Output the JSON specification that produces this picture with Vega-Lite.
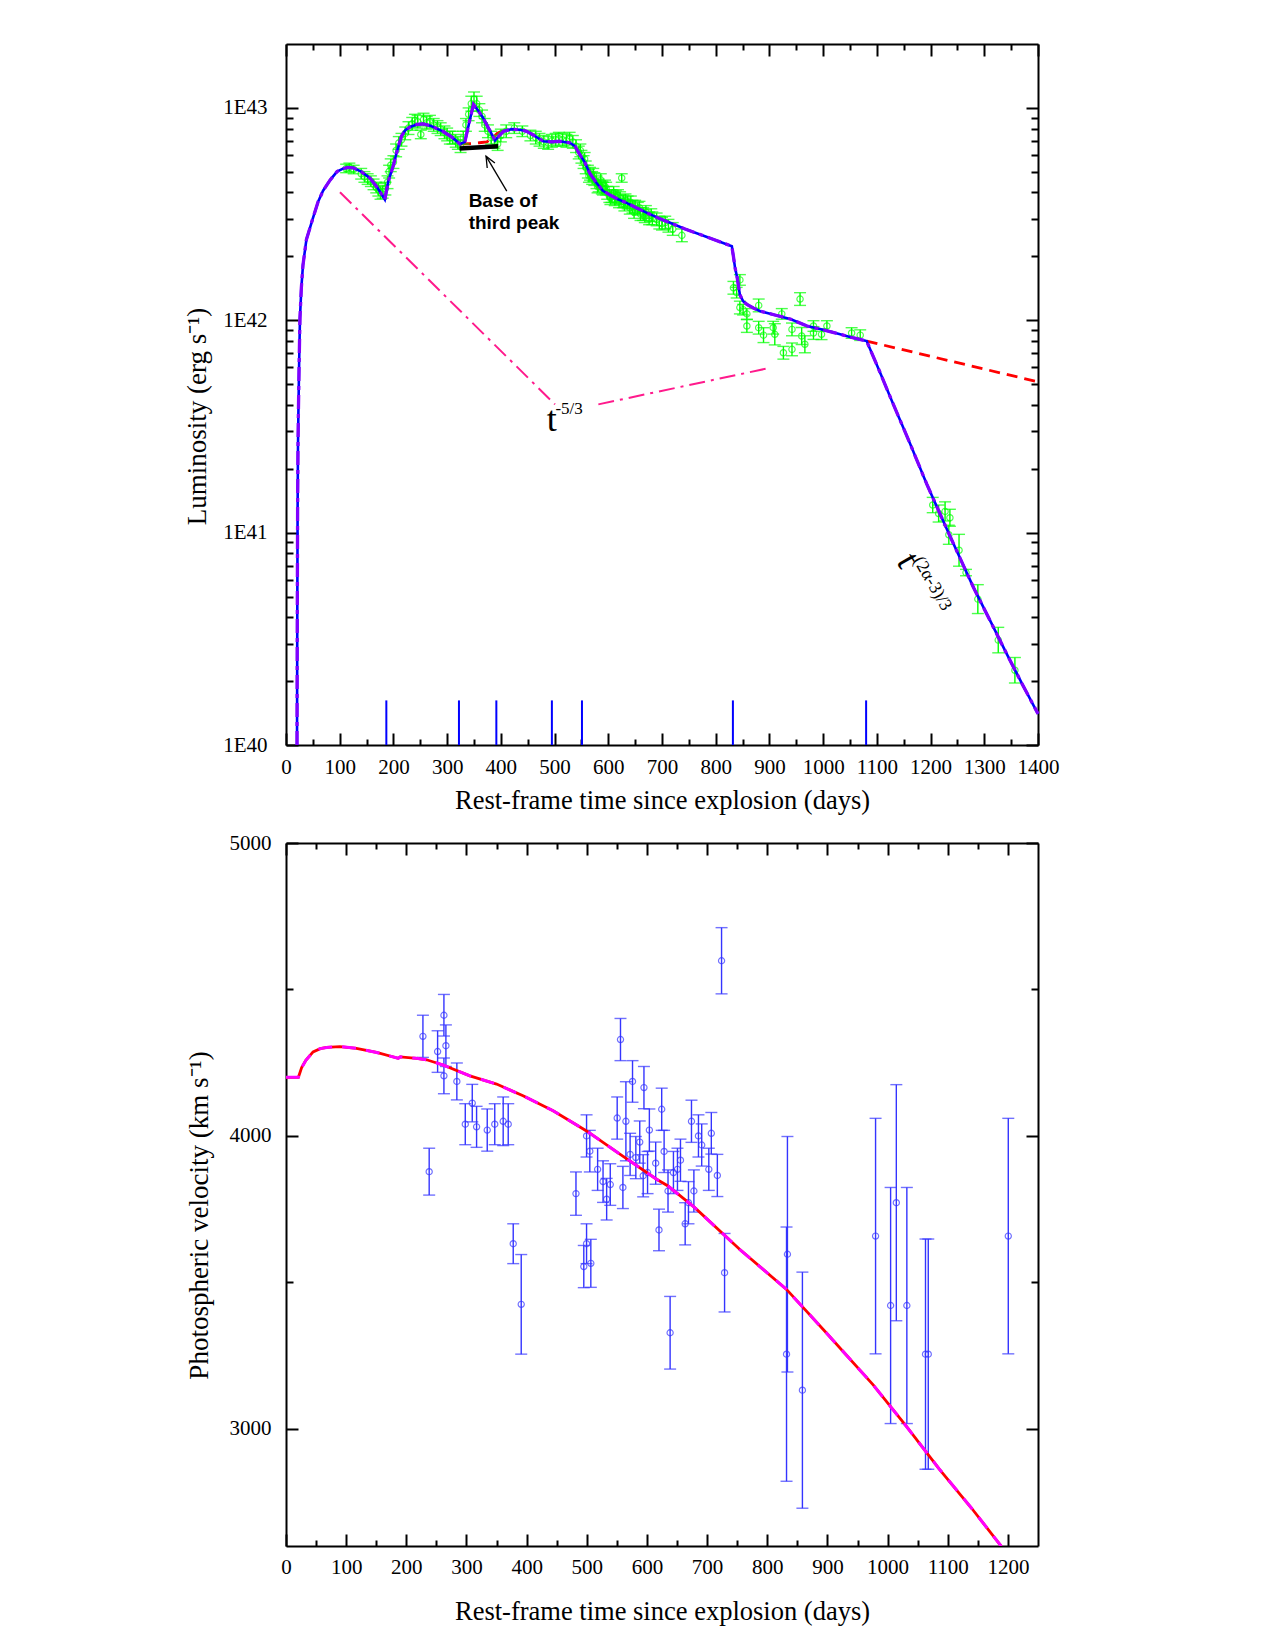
{
  "$schema": "https://vega.github.io/schema/vega-lite/v6.json",
  "background": "white",
  "padding": {"left": 183, "top": 43, "right": 10, "bottom": 10},
  "spacing": 18,
  "config": {
    "font": "Liberation Serif",
    "view": {"stroke": null},
    "axis": {
      "grid": false,
      "domainColor": "#000000",
      "domainWidth": 2,
      "tickColor": "#000000",
      "tickWidth": 2,
      "labelFont": "Liberation Serif",
      "labelFontSize": 21,
      "labelColor": "#000000",
      "titleFont": "Liberation Serif",
      "titleFontSize": 26.5,
      "titleFontWeight": "normal",
      "titleColor": "#000000",
      "labelFlush": false,
      "labelOverlap": false,
      "labelBound": false,
      "format": "d"
    }
  },
  "datasets": {
    "lumModel": [
      {"t": 20.5, "L": 40.0}, {"t": 21, "L": 40.6}, {"t": 21.6, "L": 41.1}, {"t": 22.3, "L": 41.4},
      {"t": 23, "L": 41.55}, {"t": 24.4, "L": 41.79}, {"t": 26, "L": 42.01}, {"t": 28.5, "L": 42.15},
      {"t": 31.6, "L": 42.26}, {"t": 38, "L": 42.38}, {"t": 50, "L": 42.48}, {"t": 60, "L": 42.56},
      {"t": 69, "L": 42.61}, {"t": 82, "L": 42.66}, {"t": 95, "L": 42.7}, {"t": 107, "L": 42.715},
      {"t": 115, "L": 42.72}, {"t": 125, "L": 42.718}, {"t": 140, "L": 42.7}, {"t": 156, "L": 42.67},
      {"t": 170, "L": 42.625}, {"t": 184, "L": 42.569}, {"t": 190.5, "L": 42.655}, {"t": 200, "L": 42.73},
      {"t": 206, "L": 42.79}, {"t": 215, "L": 42.867}, {"t": 222, "L": 42.895}, {"t": 231, "L": 42.91},
      {"t": 243, "L": 42.922}, {"t": 255, "L": 42.925}, {"t": 270, "L": 42.915}, {"t": 292, "L": 42.89},
      {"t": 310, "L": 42.86}, {"t": 324, "L": 42.83}, {"t": 333, "L": 42.84}, {"t": 341, "L": 42.93},
      {"t": 349, "L": 43.016}, {"t": 357, "L": 42.99}, {"t": 367, "L": 42.953}, {"t": 378, "L": 42.9},
      {"t": 389, "L": 42.847}, {"t": 397, "L": 42.87}, {"t": 405, "L": 42.89}, {"t": 420, "L": 42.9},
      {"t": 435, "L": 42.897}, {"t": 448, "L": 42.89}, {"t": 462, "L": 42.87}, {"t": 479, "L": 42.843},
      {"t": 495, "L": 42.84}, {"t": 510, "L": 42.843}, {"t": 529, "L": 42.835}, {"t": 538, "L": 42.82},
      {"t": 547, "L": 42.78}, {"t": 556, "L": 42.745}, {"t": 566, "L": 42.69}, {"t": 578, "L": 42.647},
      {"t": 590, "L": 42.61}, {"t": 603, "L": 42.59}, {"t": 618, "L": 42.57}, {"t": 634, "L": 42.553},
      {"t": 652, "L": 42.53}, {"t": 672, "L": 42.506}, {"t": 693, "L": 42.482}, {"t": 715, "L": 42.459},
      {"t": 743, "L": 42.43}, {"t": 771, "L": 42.404}, {"t": 800, "L": 42.377}, {"t": 830, "L": 42.349},
      {"t": 833, "L": 42.3}, {"t": 836, "L": 42.247}, {"t": 840, "L": 42.2}, {"t": 845, "L": 42.12},
      {"t": 851, "L": 42.09}, {"t": 858, "L": 42.075}, {"t": 870, "L": 42.058}, {"t": 883, "L": 42.043},
      {"t": 910, "L": 42.025}, {"t": 940, "L": 42.005}, {"t": 970, "L": 41.973}, {"t": 1000, "L": 41.955},
      {"t": 1030, "L": 41.935}, {"t": 1055, "L": 41.918}, {"t": 1081, "L": 41.902}, {"t": 1105, "L": 41.76},
      {"t": 1128, "L": 41.62}, {"t": 1160, "L": 41.43}, {"t": 1193, "L": 41.228}, {"t": 1235, "L": 40.99},
      {"t": 1280, "L": 40.741}, {"t": 1310, "L": 40.59}, {"t": 1342, "L": 40.428}, {"t": 1370, "L": 40.29},
      {"t": 1400, "L": 40.147}
    ],
    "lumNoPeak": [
      {"t": 324, "L": 42.83, "seg": "a"}, {"t": 345, "L": 42.832, "seg": "a"}, {"t": 360, "L": 42.836, "seg": "a"},
      {"t": 374, "L": 42.84, "seg": "a"}, {"t": 385, "L": 42.86, "seg": "a"}, {"t": 393, "L": 42.88, "seg": "a"},
      {"t": 405, "L": 42.895, "seg": "a"},
      {"t": 1081, "L": 41.902, "seg": "b"}, {"t": 1400, "L": 41.71, "seg": "b"}
    ],
    "powerLaw": [
      {"t": 100.5, "L": 42.603, "seg": "a"}, {"t": 500.8, "L": 41.604, "seg": "a"},
      {"t": 581.5, "L": 41.604, "seg": "b"}, {"t": 901, "L": 41.776, "seg": "b"}
    ],
    "lumObs": [
      {"t": 112, "L": 42.715, "e": 0.02}, {"t": 118, "L": 42.72, "e": 0.02}, {"t": 126, "L": 42.71, "e": 0.02},
      {"t": 140, "L": 42.69, "e": 0.025}, {"t": 146, "L": 42.675, "e": 0.025}, {"t": 152, "L": 42.665, "e": 0.025},
      {"t": 158, "L": 42.655, "e": 0.025}, {"t": 163, "L": 42.64, "e": 0.025}, {"t": 168, "L": 42.625, "e": 0.025},
      {"t": 172, "L": 42.615, "e": 0.03}, {"t": 176, "L": 42.6, "e": 0.03}, {"t": 180, "L": 42.605, "e": 0.03},
      {"t": 185, "L": 42.62, "e": 0.03}, {"t": 189, "L": 42.65, "e": 0.03}, {"t": 192, "L": 42.7, "e": 0.03},
      {"t": 195, "L": 42.73, "e": 0.03}, {"t": 200, "L": 42.745, "e": 0.03}, {"t": 205, "L": 42.8, "e": 0.03},
      {"t": 210, "L": 42.835, "e": 0.03}, {"t": 215, "L": 42.85, "e": 0.03}, {"t": 222, "L": 42.88, "e": 0.03},
      {"t": 228, "L": 42.905, "e": 0.03}, {"t": 235, "L": 42.925, "e": 0.03}, {"t": 240, "L": 42.94, "e": 0.03},
      {"t": 245, "L": 42.935, "e": 0.03}, {"t": 251, "L": 42.875, "e": 0.02}, {"t": 256, "L": 42.945, "e": 0.03},
      {"t": 262, "L": 42.93, "e": 0.03}, {"t": 268, "L": 42.935, "e": 0.03}, {"t": 275, "L": 42.92, "e": 0.03},
      {"t": 282, "L": 42.91, "e": 0.03}, {"t": 288, "L": 42.9, "e": 0.03}, {"t": 295, "L": 42.885, "e": 0.03},
      {"t": 300, "L": 42.875, "e": 0.03}, {"t": 305, "L": 42.86, "e": 0.03}, {"t": 310, "L": 42.86, "e": 0.03},
      {"t": 316, "L": 42.845, "e": 0.03}, {"t": 320, "L": 42.835, "e": 0.03}, {"t": 325, "L": 42.82, "e": 0.03},
      {"t": 330, "L": 42.86, "e": 0.03}, {"t": 335, "L": 42.92, "e": 0.03}, {"t": 340, "L": 42.97, "e": 0.03},
      {"t": 345, "L": 43.02, "e": 0.035}, {"t": 350, "L": 43.04, "e": 0.035}, {"t": 355, "L": 43.02, "e": 0.035},
      {"t": 360, "L": 42.99, "e": 0.03}, {"t": 365, "L": 42.96, "e": 0.03}, {"t": 370, "L": 42.92, "e": 0.03},
      {"t": 376, "L": 42.89, "e": 0.03}, {"t": 382, "L": 42.86, "e": 0.03}, {"t": 388, "L": 42.84, "e": 0.03},
      {"t": 394, "L": 42.83, "e": 0.03}, {"t": 400, "L": 42.87, "e": 0.03}, {"t": 410, "L": 42.89, "e": 0.03},
      {"t": 425, "L": 42.905, "e": 0.025}, {"t": 440, "L": 42.89, "e": 0.025}, {"t": 455, "L": 42.87, "e": 0.025},
      {"t": 465, "L": 42.86, "e": 0.03}, {"t": 472, "L": 42.85, "e": 0.03}, {"t": 480, "L": 42.84, "e": 0.03},
      {"t": 488, "L": 42.835, "e": 0.03}, {"t": 495, "L": 42.845, "e": 0.03}, {"t": 502, "L": 42.85, "e": 0.03},
      {"t": 508, "L": 42.855, "e": 0.03}, {"t": 515, "L": 42.85, "e": 0.03}, {"t": 522, "L": 42.845, "e": 0.03},
      {"t": 528, "L": 42.855, "e": 0.03}, {"t": 534, "L": 42.84, "e": 0.03}, {"t": 540, "L": 42.82, "e": 0.03},
      {"t": 545, "L": 42.79, "e": 0.03}, {"t": 548, "L": 42.8, "e": 0.03}, {"t": 550, "L": 42.77, "e": 0.03},
      {"t": 554, "L": 42.745, "e": 0.03}, {"t": 556, "L": 42.76, "e": 0.03}, {"t": 558, "L": 42.72, "e": 0.03},
      {"t": 562, "L": 42.7, "e": 0.03}, {"t": 564, "L": 42.68, "e": 0.03}, {"t": 566, "L": 42.69, "e": 0.03},
      {"t": 570, "L": 42.67, "e": 0.03}, {"t": 572, "L": 42.685, "e": 0.03}, {"t": 574, "L": 42.665, "e": 0.03},
      {"t": 578, "L": 42.65, "e": 0.03}, {"t": 580, "L": 42.63, "e": 0.03}, {"t": 582, "L": 42.635, "e": 0.03},
      {"t": 586, "L": 42.66, "e": 0.03}, {"t": 588, "L": 42.625, "e": 0.03}, {"t": 590, "L": 42.62, "e": 0.03},
      {"t": 594, "L": 42.63, "e": 0.03}, {"t": 596, "L": 42.62, "e": 0.03}, {"t": 598, "L": 42.6, "e": 0.03},
      {"t": 602, "L": 42.585, "e": 0.03}, {"t": 604, "L": 42.575, "e": 0.03}, {"t": 606, "L": 42.585, "e": 0.03},
      {"t": 610, "L": 42.6, "e": 0.03}, {"t": 612, "L": 42.57, "e": 0.03}, {"t": 614, "L": 42.58, "e": 0.03},
      {"t": 618, "L": 42.585, "e": 0.03}, {"t": 620, "L": 42.56, "e": 0.03}, {"t": 622, "L": 42.575, "e": 0.03},
      {"t": 625, "L": 42.67, "e": 0.02}, {"t": 628, "L": 42.56, "e": 0.03}, {"t": 630, "L": 42.545, "e": 0.03},
      {"t": 632, "L": 42.565, "e": 0.03}, {"t": 636, "L": 42.555, "e": 0.03}, {"t": 640, "L": 42.53, "e": 0.03},
      {"t": 642, "L": 42.555, "e": 0.03}, {"t": 645, "L": 42.535, "e": 0.03}, {"t": 648, "L": 42.51, "e": 0.03},
      {"t": 650, "L": 42.535, "e": 0.03}, {"t": 655, "L": 42.525, "e": 0.03}, {"t": 658, "L": 42.53, "e": 0.03},
      {"t": 660, "L": 42.5, "e": 0.03}, {"t": 665, "L": 42.5, "e": 0.03}, {"t": 668, "L": 42.49, "e": 0.03},
      {"t": 670, "L": 42.51, "e": 0.03}, {"t": 676, "L": 42.48, "e": 0.03}, {"t": 680, "L": 42.495, "e": 0.03},
      {"t": 682, "L": 42.48, "e": 0.03}, {"t": 690, "L": 42.475, "e": 0.03}, {"t": 695, "L": 42.46, "e": 0.03},
      {"t": 700, "L": 42.455, "e": 0.03}, {"t": 706, "L": 42.46, "e": 0.03}, {"t": 712, "L": 42.445, "e": 0.03},
      {"t": 720, "L": 42.43, "e": 0.03}, {"t": 737, "L": 42.4, "e": 0.03},
      {"t": 833, "L": 42.153, "e": 0.03}, {"t": 845, "L": 42.19, "e": 0.025}, {"t": 839, "L": 42.13, "e": 0.025},
      {"t": 845, "L": 42.06, "e": 0.03}, {"t": 851, "L": 42.05, "e": 0.025}, {"t": 858, "L": 42.03, "e": 0.025},
      {"t": 880, "L": 42.07, "e": 0.03}, {"t": 858, "L": 41.973, "e": 0.03}, {"t": 880, "L": 41.965, "e": 0.03},
      {"t": 889, "L": 41.93, "e": 0.035}, {"t": 907, "L": 41.965, "e": 0.03}, {"t": 910, "L": 41.934, "e": 0.05},
      {"t": 923, "L": 42.03, "e": 0.025}, {"t": 926, "L": 41.847, "e": 0.03}, {"t": 942, "L": 41.863, "e": 0.03},
      {"t": 942, "L": 41.957, "e": 0.03}, {"t": 957, "L": 42.1, "e": 0.03}, {"t": 960, "L": 41.926, "e": 0.04},
      {"t": 966, "L": 41.887, "e": 0.04}, {"t": 982, "L": 41.973, "e": 0.025}, {"t": 982, "L": 41.94, "e": 0.03},
      {"t": 997, "L": 41.934, "e": 0.025}, {"t": 1007, "L": 41.973, "e": 0.025}, {"t": 1053, "L": 41.94, "e": 0.025},
      {"t": 1069, "L": 41.93, "e": 0.025},
      {"t": 1204, "L": 41.13, "e": 0.036}, {"t": 1215, "L": 41.09, "e": 0.04}, {"t": 1227, "L": 41.1, "e": 0.045},
      {"t": 1236, "L": 41.07, "e": 0.04}, {"t": 1234, "L": 40.99, "e": 0.045}, {"t": 1253, "L": 40.917, "e": 0.075},
      {"t": 1266, "L": 40.812, "e": 0.015}, {"t": 1288, "L": 40.687, "e": 0.068}, {"t": 1326, "L": 40.494, "e": 0.06},
      {"t": 1357, "L": 40.352, "e": 0.06}
    ],
    "breaks": [{"t": 186.8}, {"t": 322}, {"t": 391.6}, {"t": 495}, {"t": 551}, {"t": 832}, {"t": 1080}],
    "base": [{"t": 323, "L": 42.809}, {"t": 395, "L": 42.82}],
    "arrow": [
      {"t": 411, "L": 42.608, "part": "shaft", "k": 0}, {"t": 372.4, "L": 42.773, "part": "shaft", "k": 1},
      {"t": 374.6, "L": 42.717, "part": "head", "k": 0}, {"t": 372.4, "L": 42.773, "part": "head", "k": 1},
      {"t": 388.9, "L": 42.741, "part": "head", "k": 2}
    ],
    "velModel": [
      {"t": 0, "v": 4200}, {"t": 20.5, "v": 4200}, {"t": 23, "v": 4215}, {"t": 26, "v": 4233}, {"t": 33, "v": 4258},
      {"t": 45, "v": 4287}, {"t": 57, "v": 4298}, {"t": 67.6, "v": 4302}, {"t": 89.7, "v": 4305}, {"t": 117, "v": 4299},
      {"t": 150.6, "v": 4285}, {"t": 186.6, "v": 4265}, {"t": 190, "v": 4270}, {"t": 217, "v": 4265}, {"t": 233.7, "v": 4260},
      {"t": 261, "v": 4242}, {"t": 305.7, "v": 4205}, {"t": 350, "v": 4177}, {"t": 394, "v": 4137}, {"t": 444, "v": 4086},
      {"t": 499.6, "v": 4017}, {"t": 555, "v": 3938}, {"t": 616, "v": 3852}, {"t": 635, "v": 3829}, {"t": 679.5, "v": 3755},
      {"t": 754, "v": 3613}, {"t": 832, "v": 3476}, {"t": 898, "v": 3328}, {"t": 976, "v": 3150}, {"t": 1031, "v": 3009},
      {"t": 1086.6, "v": 2861}, {"t": 1140, "v": 2728}, {"t": 1189, "v": 2599}
    ],
    "velObs": [
      {"t": 227.6, "v": 4340, "e": 72}, {"t": 238, "v": 3878, "e": 80}, {"t": 252, "v": 4288, "e": 71},
      {"t": 262.5, "v": 4412, "e": 71}, {"t": 265.8, "v": 4308, "e": 71}, {"t": 262.5, "v": 4205, "e": 61},
      {"t": 284, "v": 4186, "e": 63}, {"t": 298, "v": 4040, "e": 70}, {"t": 309.6, "v": 4112, "e": 64},
      {"t": 316.8, "v": 4031, "e": 70}, {"t": 334.5, "v": 4020, "e": 72}, {"t": 347, "v": 4040, "e": 70},
      {"t": 361, "v": 4050, "e": 83}, {"t": 369.4, "v": 4040, "e": 70}, {"t": 377.7, "v": 3632, "e": 68},
      {"t": 391, "v": 3425, "e": 170}, {"t": 482, "v": 3803, "e": 74}, {"t": 499.6, "v": 4000, "e": 72},
      {"t": 505, "v": 3948, "e": 71}, {"t": 518, "v": 3886, "e": 72}, {"t": 527, "v": 3844, "e": 71},
      {"t": 533, "v": 3784, "e": 71}, {"t": 539, "v": 3834, "e": 71}, {"t": 550.5, "v": 4061, "e": 72},
      {"t": 556, "v": 4329, "e": 72}, {"t": 565, "v": 4050, "e": 135}, {"t": 576, "v": 4186, "e": 71},
      {"t": 572, "v": 3937, "e": 72}, {"t": 581.5, "v": 3926, "e": 72}, {"t": 588, "v": 3979, "e": 72},
      {"t": 595, "v": 4165, "e": 72}, {"t": 593.7, "v": 3864, "e": 72}, {"t": 604, "v": 4020, "e": 72},
      {"t": 614.5, "v": 3907, "e": 72}, {"t": 624.5, "v": 4091, "e": 72}, {"t": 628.5, "v": 3947, "e": 72},
      {"t": 495, "v": 3554, "e": 72}, {"t": 499.6, "v": 3632, "e": 68}, {"t": 506.7, "v": 3565, "e": 82},
      {"t": 560, "v": 3824, "e": 72}, {"t": 620, "v": 3679, "e": 71}, {"t": 635, "v": 3812, "e": 72},
      {"t": 638.5, "v": 3328, "e": 124}, {"t": 663.5, "v": 3700, "e": 72}, {"t": 669, "v": 3772, "e": 72},
      {"t": 678, "v": 3812, "e": 72}, {"t": 729, "v": 3533, "e": 134}, {"t": 833.5, "v": 3596, "e": 402},
      {"t": 832, "v": 3255, "e": 434}, {"t": 858.4, "v": 3132, "e": 403}, {"t": 980, "v": 3658, "e": 402},
      {"t": 1005, "v": 3421, "e": 403}, {"t": 1014.5, "v": 3772, "e": 403}, {"t": 1032, "v": 3421, "e": 403},
      {"t": 1063, "v": 3255, "e": 393}, {"t": 1067.6, "v": 3255, "e": 393}, {"t": 1200.6, "v": 3658, "e": 402},
      {"t": 724, "v": 4598, "e": 113}, {"t": 674, "v": 4050, "e": 72}, {"t": 685.6, "v": 4000, "e": 72},
      {"t": 707, "v": 4009, "e": 71}, {"t": 691, "v": 3969, "e": 72}, {"t": 655.7, "v": 3917, "e": 72},
      {"t": 650.7, "v": 3886, "e": 72}, {"t": 644, "v": 3875, "e": 72}, {"t": 702.8, "v": 3886, "e": 72},
      {"t": 717, "v": 3865, "e": 72}, {"t": 601, "v": 3875, "e": 72}
    ]
  },
  "vconcat": [
    {
      "width": 752,
      "height": 701,
      "resolve": {"axis": {"x": "independent", "y": "independent"}},
      "layer": [
        {
          "data": {"name": "powerLaw"},
          "mark": {"type": "line", "color": "#ff1a8c", "strokeWidth": 2, "strokeDash": [16, 6, 3, 6]},
          "encoding": {
            "x": {"field": "t", "type": "quantitative", "scale": {"domain": [0, 1400], "nice": false, "zero": false}, "axis": null},
            "y": {"field": "L", "type": "quantitative", "scale": {"domain": [40, 43.301], "nice": false, "zero": false}, "axis": null},
            "detail": {"field": "seg"}
          }
        },
        {
          "data": {"name": "lumNoPeak"},
          "mark": {"type": "line", "color": "#ff0000", "strokeWidth": 2.8, "strokeDash": [11, 7]},
          "encoding": {
            "x": {"field": "t", "type": "quantitative", "scale": {"domain": [0, 1400], "nice": false, "zero": false}, "axis": null},
            "y": {"field": "L", "type": "quantitative", "scale": {"domain": [40, 43.301], "nice": false, "zero": false}, "axis": null},
            "detail": {"field": "seg"}
          }
        },
        {
          "data": {"name": "lumObs"},
          "mark": {"type": "errorbar", "ticks": true, "size": 12, "thickness": 1.4, "color": "#00ff00"},
          "encoding": {
            "x": {"field": "t", "type": "quantitative", "scale": {"domain": [0, 1400], "nice": false, "zero": false}, "axis": null},
            "y": {"field": "L", "type": "quantitative", "scale": {"domain": [40, 43.301], "nice": false, "zero": false}, "axis": null},
            "yError": {"field": "e"}
          }
        },
        {
          "data": {"name": "lumObs"},
          "mark": {"type": "point", "shape": "circle", "filled": false, "size": 40, "strokeWidth": 1.2, "color": "#00ff00"},
          "encoding": {
            "x": {"field": "t", "type": "quantitative", "scale": {"domain": [0, 1400], "nice": false, "zero": false}, "axis": null},
            "y": {"field": "L", "type": "quantitative", "scale": {"domain": [40, 43.301], "nice": false, "zero": false}, "axis": null}
          }
        },
        {
          "data": {"name": "lumModel"},
          "mark": {"type": "line", "color": "#0000ff", "strokeWidth": 2.6},
          "encoding": {
            "x": {
              "field": "t", "type": "quantitative",
              "scale": {"domain": [0, 1400], "nice": false, "zero": false},
              "axis": {
                "orient": "bottom",
                "title": "Rest-frame time since explosion (days)",
                "values": [0, 50, 100, 150, 200, 250, 300, 350, 400, 450, 500, 550, 600, 650, 700, 750, 800, 850, 900, 950, 1000, 1050, 1100, 1150, 1200, 1250, 1300, 1350, 1400],
                "labelExpr": "datum.value % 100 === 0 ? datum.label : ''",
                "tickSize": {"condition": {"test": "datum.value % 100 === 0", "value": -12}, "value": -6},
                "labelPadding": 23,
                "titlePadding": 4
              }
            },
            "y": {
              "field": "L", "type": "quantitative",
              "scale": {"domain": [40, 43.301], "nice": false, "zero": false},
              "axis": {
                "orient": "left",
                "title": "Luminosity (erg s⁻¹)",
                "titleFontSize": 27,
                "values": [40, 40.30103, 40.47712, 40.60206, 40.69897, 40.77815, 40.8451, 40.90309, 40.95424, 41, 41.30103, 41.47712, 41.60206, 41.69897, 41.77815, 41.8451, 41.90309, 41.95424, 42, 42.30103, 42.47712, 42.60206, 42.69897, 42.77815, 42.8451, 42.90309, 42.95424, 43],
                "labelExpr": "datum.value % 1 === 0 ? '1E' + datum.value : ''",
                "tickSize": {"condition": {"test": "datum.value % 1 === 0", "value": -12}, "value": -7},
                "labelPadding": 31,
                "titlePadding": 11,
                "titleY": 372
              }
            }
          }
        },
        {
          "data": {"name": "lumModel"},
          "mark": {"type": "line", "color": "#8000ff", "strokeWidth": 3.3, "strokeDash": [14, 5, 4, 5]},
          "encoding": {
            "x": {
              "field": "t", "type": "quantitative",
              "scale": {"domain": [0, 1400], "nice": false, "zero": false},
              "axis": {
                "orient": "top", "title": null, "labels": false,
                "values": [0, 50, 100, 150, 200, 250, 300, 350, 400, 450, 500, 550, 600, 650, 700, 750, 800, 850, 900, 950, 1000, 1050, 1100, 1150, 1200, 1250, 1300, 1350, 1400],
                "tickSize": {"condition": {"test": "datum.value % 100 === 0", "value": -12}, "value": -6}
              }
            },
            "y": {
              "field": "L", "type": "quantitative",
              "scale": {"domain": [40, 43.301], "nice": false, "zero": false},
              "axis": {
                "orient": "right", "title": null, "labels": false,
                "values": [40, 40.30103, 40.47712, 40.60206, 40.69897, 40.77815, 40.8451, 40.90309, 40.95424, 41, 41.30103, 41.47712, 41.60206, 41.69897, 41.77815, 41.8451, 41.90309, 41.95424, 42, 42.30103, 42.47712, 42.60206, 42.69897, 42.77815, 42.8451, 42.90309, 42.95424, 43],
                "tickSize": {"condition": {"test": "datum.value % 1 === 0", "value": -12}, "value": -7}
              }
            }
          }
        },
        {
          "data": {"name": "breaks"},
          "mark": {"type": "rule", "color": "#0000ff", "strokeWidth": 2},
          "encoding": {
            "x": {"field": "t", "type": "quantitative", "scale": {"domain": [0, 1400], "nice": false, "zero": false}, "axis": null},
            "y": {"datum": 40, "type": "quantitative", "scale": {"domain": [40, 43.301], "nice": false, "zero": false}, "axis": null},
            "y2": {"datum": 40.21}
          }
        },
        {
          "data": {"name": "base"},
          "mark": {"type": "line", "color": "#000000", "strokeWidth": 4.5},
          "encoding": {
            "x": {"field": "t", "type": "quantitative", "scale": {"domain": [0, 1400], "nice": false, "zero": false}, "axis": null},
            "y": {"field": "L", "type": "quantitative", "scale": {"domain": [40, 43.301], "nice": false, "zero": false}, "axis": null}
          }
        },
        {
          "data": {"name": "arrow"},
          "mark": {"type": "line", "color": "#000000", "strokeWidth": 1.3},
          "encoding": {
            "x": {"field": "t", "type": "quantitative", "scale": {"domain": [0, 1400], "nice": false, "zero": false}, "axis": null},
            "y": {"field": "L", "type": "quantitative", "scale": {"domain": [40, 43.301], "nice": false, "zero": false}, "axis": null},
            "detail": {"field": "part"},
            "order": {"field": "k"}
          }
        },
        {
          "data": {"values": [{}]},
          "mark": {"type": "text", "text": ["Base of", "third peak"], "font": "Liberation Sans", "fontWeight": "bold", "fontSize": 19, "align": "left", "baseline": "alphabetic", "lineHeight": 22.6, "color": "#000000"},
          "encoding": {
            "x": {"datum": 340, "type": "quantitative", "scale": {"domain": [0, 1400], "nice": false, "zero": false}, "axis": null},
            "y": {"datum": 42.534, "type": "quantitative", "scale": {"domain": [40, 43.301], "nice": false, "zero": false}, "axis": null}
          }
        },
        {
          "data": {"values": [{}]},
          "mark": {"type": "text", "text": "t", "font": "Liberation Serif", "fontSize": 36, "align": "center", "baseline": "alphabetic", "color": "#000000"},
          "encoding": {
            "x": {"datum": 494.6, "type": "quantitative", "scale": {"domain": [0, 1400], "nice": false, "zero": false}, "axis": null},
            "y": {"datum": 41.478, "type": "quantitative", "scale": {"domain": [40, 43.301], "nice": false, "zero": false}, "axis": null}
          }
        },
        {
          "data": {"values": [{}]},
          "mark": {"type": "text", "text": "-5/3", "font": "Liberation Serif", "fontSize": 17, "align": "left", "baseline": "alphabetic", "color": "#000000"},
          "encoding": {
            "x": {"datum": 501.5, "type": "quantitative", "scale": {"domain": [0, 1400], "nice": false, "zero": false}, "axis": null},
            "y": {"datum": 41.559, "type": "quantitative", "scale": {"domain": [40, 43.301], "nice": false, "zero": false}, "axis": null}
          }
        },
        {
          "data": {"values": [{}]},
          "mark": {"type": "text", "text": "t", "font": "Liberation Serif", "fontSize": 36, "align": "center", "baseline": "middle", "angle": 60, "color": "#000000"},
          "encoding": {
            "x": {"datum": 1158, "type": "quantitative", "scale": {"domain": [0, 1400], "nice": false, "zero": false}, "axis": null},
            "y": {"datum": 40.87, "type": "quantitative", "scale": {"domain": [40, 43.301], "nice": false, "zero": false}, "axis": null}
          }
        },
        {
          "data": {"values": [{}]},
          "mark": {"type": "text", "text": "(2α-3)/3", "font": "Liberation Serif", "fontSize": 18, "align": "center", "baseline": "middle", "angle": 60, "color": "#000000"},
          "encoding": {
            "x": {"datum": 1203, "type": "quantitative", "scale": {"domain": [0, 1400], "nice": false, "zero": false}, "axis": null},
            "y": {"datum": 40.76, "type": "quantitative", "scale": {"domain": [40, 43.301], "nice": false, "zero": false}, "axis": null}
          }
        }
      ]
    },
    {
      "width": 752,
      "height": 703,
      "resolve": {"axis": {"x": "independent", "y": "independent"}},
      "layer": [
        {
          "data": {"name": "velObs"},
          "mark": {"type": "errorbar", "ticks": true, "size": 12, "thickness": 1.4, "color": "#3434ff"},
          "encoding": {
            "x": {"field": "t", "type": "quantitative", "scale": {"domain": [0, 1250], "nice": false, "zero": false}, "axis": null},
            "y": {"field": "v", "type": "quantitative", "scale": {"domain": [2600, 5000], "nice": false, "zero": false}, "axis": null},
            "yError": {"field": "e"}
          }
        },
        {
          "data": {"name": "velObs"},
          "mark": {"type": "point", "shape": "circle", "filled": false, "size": 38, "strokeWidth": 1.2, "color": "#3434ff"},
          "encoding": {
            "x": {"field": "t", "type": "quantitative", "scale": {"domain": [0, 1250], "nice": false, "zero": false}, "axis": null},
            "y": {"field": "v", "type": "quantitative", "scale": {"domain": [2600, 5000], "nice": false, "zero": false}, "axis": null}
          }
        },
        {
          "data": {"name": "velModel"},
          "mark": {"type": "line", "color": "#ff0000", "strokeWidth": 2.8, "clip": true},
          "encoding": {
            "x": {
              "field": "t", "type": "quantitative",
              "scale": {"domain": [0, 1250], "nice": false, "zero": false},
              "axis": {
                "orient": "bottom",
                "title": "Rest-frame time since explosion (days)",
                "values": [0, 50, 100, 150, 200, 250, 300, 350, 400, 450, 500, 550, 600, 650, 700, 750, 800, 850, 900, 950, 1000, 1050, 1100, 1150, 1200],
                "labelExpr": "datum.value % 100 === 0 ? datum.label : ''",
                "tickSize": {"condition": {"test": "datum.value % 100 === 0", "value": -12}, "value": -6},
                "labelPadding": 22,
                "titlePadding": 15
              }
            },
            "y": {
              "field": "v", "type": "quantitative",
              "scale": {"domain": [2600, 5000], "nice": false, "zero": false},
              "axis": {
                "orient": "left",
                "title": "Photospheric velocity (km s⁻¹)",
                "titleFontSize": 27,
                "values": [3000, 3500, 4000, 4500, 5000],
                "labelExpr": "datum.value % 1000 === 0 ? datum.label : ''",
                "tickSize": {"condition": {"test": "datum.value % 1000 === 0", "value": -12}, "value": -7},
                "labelPadding": 27,
                "titlePadding": 16,
                "titleY": 372
              }
            }
          }
        },
        {
          "data": {"name": "velModel"},
          "mark": {"type": "line", "color": "#ff00ff", "strokeWidth": 3, "strokeDash": [14, 10], "clip": true},
          "encoding": {
            "x": {
              "field": "t", "type": "quantitative",
              "scale": {"domain": [0, 1250], "nice": false, "zero": false},
              "axis": {
                "orient": "top", "title": null, "labels": false,
                "values": [0, 50, 100, 150, 200, 250, 300, 350, 400, 450, 500, 550, 600, 650, 700, 750, 800, 850, 900, 950, 1000, 1050, 1100, 1150, 1200],
                "tickSize": {"condition": {"test": "datum.value % 100 === 0", "value": -12}, "value": -6}
              }
            },
            "y": {
              "field": "v", "type": "quantitative",
              "scale": {"domain": [2600, 5000], "nice": false, "zero": false},
              "axis": {
                "orient": "right", "title": null, "labels": false,
                "values": [3000, 3500, 4000, 4500, 5000],
                "tickSize": {"condition": {"test": "datum.value % 1000 === 0", "value": -12}, "value": -7}
              }
            }
          }
        }
      ]
    }
  ]
}
